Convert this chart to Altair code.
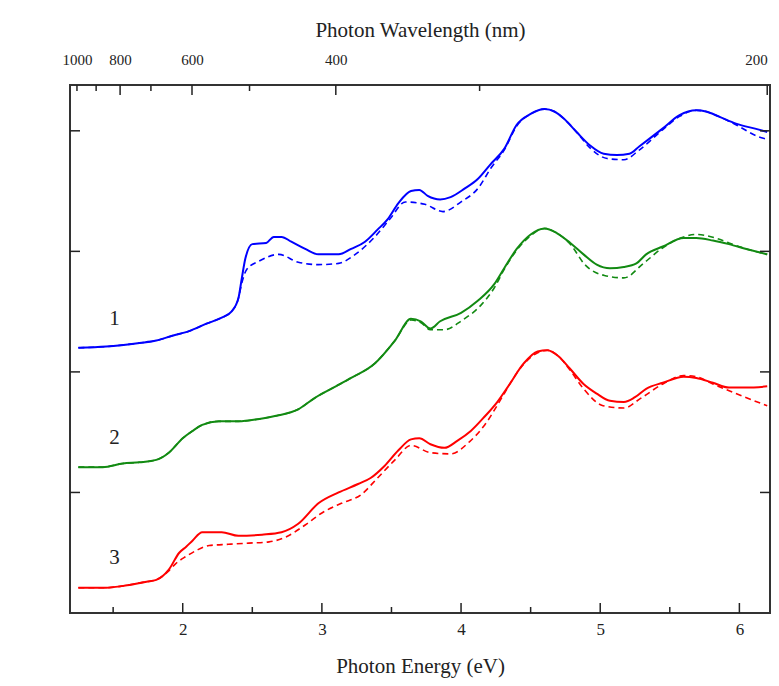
import altair as alt
import pandas as pd

# ---- data (photon energy in eV, absorption in a.u.) ----
B1_E = [1.25,1.45,1.69,1.81,1.925,2.05,2.17,2.28,2.35,2.40,2.425,2.45,2.50,2.60,2.654,2.71,2.78,2.88,2.975,3.12,3.21,3.31,3.40,3.475,3.55,3.64,3.70,3.76,3.85,3.925,4.025,4.12,4.21,4.31,4.40,4.50,4.60,4.67,4.74,4.83,4.925,5.025,5.12,5.21,5.28,5.45,5.57,5.69,5.76,5.85,5.975,6.14,6.2]
B1_Y = [2.20,2.21,2.24,2.26,2.30,2.34,2.40,2.45,2.50,2.61,2.78,2.94,3.06,3.07,3.12,3.12,3.08,3.02,2.975,2.975,3.02,3.08,3.18,3.27,3.40,3.50,3.51,3.46,3.43,3.45,3.52,3.60,3.72,3.85,4.05,4.14,4.18,4.16,4.10,3.99,3.88,3.81,3.80,3.81,3.87,4.02,4.13,4.17,4.16,4.12,4.06,4.01,3.99]

B1D_E = [1.25,1.45,1.69,1.81,1.925,2.05,2.17,2.28,2.35,2.40,2.425,2.46,2.55,2.69,2.83,2.975,3.12,3.24,3.38,3.49,3.60,3.74,3.87,4.0,4.12,4.22,4.31,4.40,4.50,4.60,4.67,4.74,4.83,4.925,5.05,5.17,5.28,5.45,5.57,5.69,5.76,5.85,5.975,6.14,6.2]
B1D_Y = [2.20,2.21,2.24,2.26,2.30,2.34,2.40,2.45,2.50,2.61,2.74,2.85,2.92,2.975,2.91,2.89,2.90,2.975,3.12,3.27,3.41,3.39,3.33,3.41,3.52,3.70,3.84,4.04,4.14,4.18,4.16,4.10,3.99,3.86,3.77,3.76,3.84,4.01,4.12,4.17,4.16,4.12,4.05,3.95,3.93]

G2_E = [1.25,1.425,1.57,1.69,1.81,1.90,2.0,2.07,2.14,2.26,2.40,2.55,2.69,2.83,2.95,3.10,3.21,3.38,3.525,3.64,3.71,3.78,3.85,4.0,4.12,4.24,4.31,4.40,4.50,4.60,4.69,4.785,4.88,4.975,5.07,5.17,5.26,5.33,5.45,5.60,5.69,5.81,5.925,6.05,6.2]
G2_Y = [1.21,1.21,1.24,1.25,1.27,1.33,1.45,1.51,1.56,1.59,1.59,1.61,1.64,1.69,1.785,1.88,1.95,2.07,2.26,2.44,2.42,2.36,2.42,2.49,2.59,2.73,2.86,3.02,3.14,3.19,3.15,3.07,2.975,2.89,2.86,2.87,2.90,2.975,3.04,3.11,3.11,3.09,3.06,3.02,2.975]

G2D_E = [1.25,1.425,1.57,1.69,1.81,1.90,2.0,2.07,2.14,2.26,2.40,2.55,2.69,2.83,2.95,3.10,3.21,3.38,3.525,3.64,3.71,3.78,3.88,4.01,4.14,4.24,4.31,4.40,4.50,4.60,4.69,4.785,4.89,5.03,5.17,5.31,5.45,5.60,5.69,5.83,5.925,6.05,6.2]
G2D_Y = [1.21,1.21,1.24,1.25,1.27,1.33,1.45,1.51,1.56,1.59,1.59,1.61,1.64,1.69,1.785,1.88,1.95,2.07,2.26,2.43,2.41,2.35,2.35,2.43,2.55,2.70,2.85,3.01,3.13,3.19,3.15,3.06,2.89,2.80,2.78,2.90,3.03,3.12,3.14,3.11,3.07,3.02,2.975]

R3_E = [1.25,1.45,1.60,1.74,1.81,1.90,1.975,2.025,2.07,2.14,2.28,2.40,2.57,2.71,2.83,2.975,3.12,3.26,3.35,3.45,3.55,3.64,3.70,3.78,3.88,3.975,4.07,4.17,4.26,4.35,4.45,4.55,4.62,4.70,4.78,4.88,4.975,5.07,5.17,5.25,5.33,5.45,5.60,5.69,5.81,5.925,6.05,6.2]
R3_Y = [0.21,0.21,0.23,0.26,0.275,0.36,0.50,0.55,0.60,0.67,0.67,0.64,0.65,0.67,0.74,0.91,1.00,1.07,1.12,1.22,1.35,1.44,1.45,1.40,1.37,1.43,1.51,1.63,1.75,1.90,2.07,2.17,2.18,2.13,2.03,1.90,1.82,1.76,1.75,1.79,1.86,1.91,1.96,1.95,1.91,1.87,1.87,1.88]

R3D_E = [1.25,1.45,1.60,1.74,1.81,1.90,1.95,2.025,2.10,2.19,2.33,2.475,2.62,2.74,2.88,3.0,3.14,3.28,3.40,3.525,3.64,3.78,3.925,4.06,4.17,4.30,4.40,4.50,4.62,4.70,4.78,4.88,5.02,5.17,5.29,5.45,5.60,5.69,5.81,5.975,6.2]
R3D_Y = [0.21,0.21,0.23,0.26,0.275,0.35,0.41,0.47,0.52,0.56,0.57,0.58,0.59,0.63,0.73,0.83,0.91,0.98,1.12,1.27,1.39,1.33,1.32,1.42,1.56,1.80,1.99,2.12,2.18,2.13,2.02,1.86,1.72,1.70,1.78,1.90,1.97,1.96,1.90,1.82,1.72]

CURVE_LABELS = ["1", "2", "3"]
CURVE_LABEL_E = [1.51, 1.51, 1.51]
CURVE_LABEL_Y = [2.44, 1.45, 0.46]

X_MAJOR = [2, 3, 4, 5, 6]
X_MINOR = [1.5, 2.5, 3.5, 4.5, 5.5]
WL_MAJOR = [800, 600, 400, 200]
WL_MINOR = [1000, 900, 700, 500, 300]
WL_LABELS = [1000, 800, 600, 400, 200]
Y_TICKS = [1, 2, 3, 4]

COLORS = {"1": "#0000ff", "2": "#128a12", "3": "#ff0000"}

# ---- build tables ----
def series(E, Y, curve, style):
    return pd.DataFrame({"E": E, "A": Y, "curve": curve, "style": style})

df = pd.concat([
    series(B1D_E, B1D_Y, "1", "dashed"),
    series(G2D_E, G2D_Y, "2", "dashed"),
    series(R3D_E, R3D_Y, "3", "dashed"),
    series(B1_E, B1_Y, "1", "solid"),
    series(G2_E, G2_Y, "2", "solid"),
    series(R3_E, R3_Y, "3", "solid"),
], ignore_index=True)

W, H = 700, 528
FONT = "Liberation Serif"
INK = "#222"
xs = alt.Scale(domain=[1.19, 6.22], nice=False, zero=False)
ys = alt.Scale(domain=[0, 4.38], nice=False, zero=False)
color = alt.Color("curve:N", scale=alt.Scale(domain=list(COLORS), range=list(COLORS.values())), legend=None)

def xe(axis=None):
    return alt.X("E:Q", scale=xs, axis=axis)

def ya():
    return alt.Y("A:Q", scale=ys, axis=None)

x_bottom = alt.Axis(values=X_MAJOR, ticks=False, domain=False, grid=False,
                    labelFont=FONT, labelFontSize=17, labelColor=INK,
                    labelPadding=8, title="Photon Energy (eV)", titleFont=FONT,
                    titleFontSize=21, titleFontWeight="normal", titleColor=INK,
                    titlePadding=18)
y_left = alt.Y("A:Q", scale=ys,
               axis=alt.Axis(labels=False, ticks=False, domain=False, grid=False,
                             title="Absorptin (a.u.)", titleFont=FONT, titleFontSize=21,
                             titleFontWeight="normal", titleColor=INK, titlePadding=38))
x_top = alt.Axis(orient="top", values=[1240 / w for w in WL_LABELS],
                 ticks=False, domain=False, grid=False,
                 labelExpr="format(1240 / datum.value, '.0f')", labelFlush=4,
                 labelFont=FONT, labelFontSize=15, labelColor=INK, labelPadding=18,
                 title="Photon Wavelength (nm)", titleFont=FONT, titleFontSize=21,
                 titleFontWeight="normal", titleColor=INK, titlePadding=12)

dashed = alt.Chart(df).transform_filter(alt.datum.style == "dashed").mark_line(
    strokeWidth=1.6, strokeDash=[6, 4], interpolate="monotone"
).encode(x=xe(x_bottom), y=y_left, color=color, detail="curve:N", order="E:Q")

solid = alt.Chart(df).transform_filter(alt.datum.style == "solid").mark_line(
    strokeWidth=2, interpolate="monotone"
).encode(x=xe(), y=ya(), color=color, detail="curve:N", order="E:Q")

labels_df = pd.DataFrame({"E": CURVE_LABEL_E, "A": CURVE_LABEL_Y, "t": CURVE_LABELS})
curve_labels = alt.Chart(labels_df).mark_text(font=FONT, fontSize=21, color=INK).encode(
    x=xe(), y=ya(), text="t:N")

# tick marks pointing inward
xmaj = pd.DataFrame({"E": X_MAJOR})
xmin = pd.DataFrame({"E": X_MINOR})
bt_major = alt.Chart(xmaj).mark_rule(color=INK, strokeWidth=1.5).encode(
    x=xe(), y=alt.value(H), y2=alt.value(H - 10))
bt_minor = alt.Chart(xmin).mark_rule(color=INK, strokeWidth=1.5).encode(
    x=xe(), y=alt.value(H), y2=alt.value(H - 6))

wl_maj = pd.DataFrame({"wl": WL_MAJOR})
wl_min = pd.DataFrame({"wl": WL_MINOR})
wl_lab = pd.DataFrame({"wl": WL_LABELS})
tt_major = alt.Chart(wl_maj).transform_calculate(E="1240 / datum.wl").mark_rule(
    color=INK, strokeWidth=1.5).encode(x=xe(), y=alt.value(0), y2=alt.value(10))
tt_minor = alt.Chart(wl_min).transform_calculate(E="1240 / datum.wl").mark_rule(
    color=INK, strokeWidth=1.5).encode(x=xe(), y=alt.value(0), y2=alt.value(6))
top_labels = alt.Chart(wl_lab).transform_calculate(E="1240 / datum.wl").mark_point(
    opacity=0).encode(x=xe(x_top), y=alt.value(0))

yt = pd.DataFrame({"A": Y_TICKS})
lt = alt.Chart(yt).mark_rule(color=INK, strokeWidth=1.5).encode(
    y=ya(), x=alt.value(0), x2=alt.value(10))
rt = alt.Chart(yt).mark_rule(color=INK, strokeWidth=1.5).encode(
    y=ya(), x=alt.value(W), x2=alt.value(W - 10))

chart = alt.layer(
    dashed, solid, curve_labels, bt_major, bt_minor, tt_major, tt_minor, lt, rt, top_labels
).resolve_axis(x="independent").properties(
    width=W, height=H,
    autosize=alt.AutoSizeParams(type="none"),
    padding={"left": 62, "top": 77, "right": 1, "bottom": 65},
    background="white",
).configure_view(stroke="#333", strokeWidth=2)

chart.save("out.html", embed_options={"renderer": "svg", "actions": False})
